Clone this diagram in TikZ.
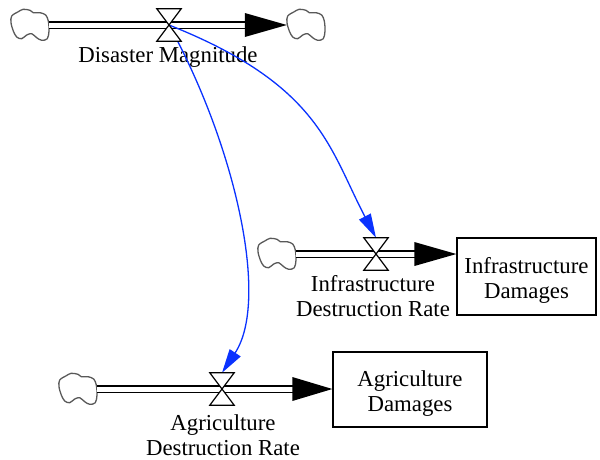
\documentclass[tikz,border=0pt]{standalone}
\usepackage{fontspec}
\setmainfont{Liberation Serif}
\usetikzlibrary{arrows.meta,calc}
\definecolor{linkblue}{RGB}{10,50,255}
\begin{document}
\begin{tikzpicture}[x=1pt,y=-1pt,
  every node/.style={font=\fontsize{22.8}{25}\selectfont},
  cloudnode/.style={minimum width=38pt, minimum height=32pt, inner sep=0pt, draw=none},
  cloudline/.style={draw=black!65, line width=1.3pt},
  pics/vcloud/.style={code={
    \draw[cloudline] plot[smooth cycle, tension=0.55] coordinates {
      (-18.3,-9) (-11.7,-13.3) (-6.7,-15.7) (0,-14.7) (3.3,-12.3) (10,-12.3)
      (15.7,-10) (18.3,-4) (19,6) (17.3,13.7) (11.7,15.3) (6.7,12.7)
      (1.7,8.7) (-3.3,10) (-8.3,13.7) (-13.3,12) (-16.7,6) (-19,-2.3)};
  }},
  pipe/.style={draw=black, double=white, double distance=5pt, line width=1.3pt},
  head/.style={fill=black},
  valvenode/.style={minimum width=24pt, minimum height=32pt, inner sep=0pt, draw=none},
  valveshape/.style={draw=black, fill=white, line width=1.2pt, line join=miter},
  stockbox/.style={draw=black, line width=1.3pt, rectangle, align=center, inner sep=0pt, text height=49.5pt},
  varlabel/.style={align=center, inner sep=0pt},
  link/.style={draw=linkblue, line width=1.3pt, -{Triangle[length=24pt,width=13pt]}}]
\useasboundingbox (0,0) rectangle (600,459);

% nodes
\node[cloudnode] (c1) at (30,25) {};
\node[cloudnode] (c2) at (306,25) {};
\node[valvenode] (v1) at (169,25) {};
\node[varlabel] (l1) at (168,57) {Disaster Magnitude};

\node[cloudnode] (c3) at (277,254) {};
\node[valvenode] (v2) at (376,254) {};
\node[stockbox, minimum width=139pt, minimum height=77pt] (s1) at (526.5,276.5) {Infrastructure\\Damages};
\node[varlabel] (l2) at (373,296) {Infrastructure\\Destruction Rate};

\node[cloudnode] (c4) at (78,389) {};
\node[valvenode] (v3) at (222,389) {};
\node[stockbox, minimum width=154pt, minimum height=75pt] (s2) at (410,389.5) {Agriculture\\Damages};
\node[varlabel] (l3) at (223,435) {Agriculture\\Destruction Rate};

% clouds
\foreach \c in {c1,c2,c3,c4}{ \pic at (\c.center) {vcloud}; }

% pipes
\draw[pipe] (c1.east) -- ($(c2.west)+(-40,0)$);
\fill[head] ($(c2.west)+(-42,-12)$) -- (c2.west) -- ($(c2.west)+(-42,12)$) -- cycle;

\coordinate (t2) at (s1.west |- v2.center);
\draw[pipe] (c3.east) -- ($(t2)+(-40,0)$);
\fill[head] ($(t2)+(-42,-12)$) -- (t2) -- ($(t2)+(-42,12)$) -- cycle;

\coordinate (t3) at (s2.west |- v3.center);
\draw[pipe] (c4.east) -- ($(t3)+(-38,0)$);
\fill[head] ($(t3)+(-40,-12)$) -- (t3) -- ($(t3)+(-40,12)$) -- cycle;

% links
\draw[link] (v1.center) .. controls (320,85) and (329,148) .. (v2.north);
\draw[link] (v1.center) .. controls (235,145) and (270,300) .. (v3.north);

% valves
\foreach \v in {v1,v2,v3}{
  \draw[valveshape] (\v.north west) -- (\v.north east) -- (\v.south west) -- (\v.south east) -- cycle;
}
\end{tikzpicture}
\end{document}
